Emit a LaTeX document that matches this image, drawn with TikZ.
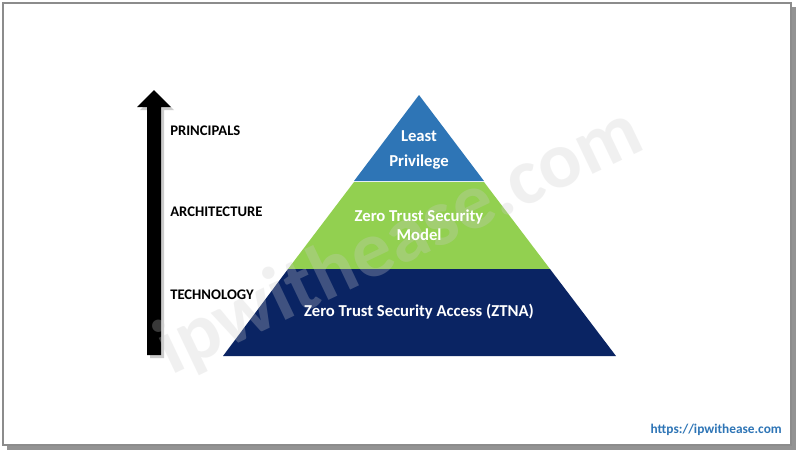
\documentclass[tikz,border=0pt]{standalone}
\usepackage{fontspec}
\setmainfont{Carlito}
\usetikzlibrary{calc}
\definecolor{tierTop}{HTML}{2E75B6}
\definecolor{tierMid}{HTML}{92D050}
\definecolor{tierBot}{HTML}{0A2463}
\definecolor{urlBlue}{HTML}{2E75B6}
\definecolor{frameGray}{HTML}{8C8C8C}
\begin{document}
\begin{tikzpicture}[x=0.75pt,y=-0.75pt,
  lvl/.style={anchor=west,font=\fontsize{11}{13}\selectfont\bfseries,text=black,inner sep=0pt},
  tiertext/.style={font=\fontsize{12.5}{17}\selectfont\bfseries,text=white,align=center,inner sep=0pt},
  wm/.style={font=\fontsize{60}{60}\selectfont\bfseries,text=gray!40,opacity=0.28,rotate=25.5}]
\useasboundingbox (0,0) rectangle (800,455);
\fill[white] (0,0) rectangle (800,455);
% frame with shadow
\fill[gray!85] (7,7) rectangle (796,450);
\fill[white] (3,3) rectangle (791,445);
\draw[frameGray,line width=1.4pt] (3,3) rectangle (791,445);
% arrow with shadow
\fill[gray!40] (150,358) -- (150,110) -- (140,110) -- (157,93) -- (174,110) -- (164,110) -- (164,358) -- cycle;
\fill[black] (147,355) -- (147,107) -- (137,107) -- (154,90) -- (171,107) -- (161,107) -- (161,355) -- cycle;
% pyramid tiers
\coordinate (apex) at (419,95);
\fill[tierTop] (apex) -- (484,181) -- (354,181) -- cycle;
\fill[tierMid] (354,182) -- (484,182) -- (550,269) -- (288,269) -- cycle;
\fill[tierBot] (288,269) -- (550,269) -- (616,356) -- (223,356) -- cycle;
% watermark
\node[wm] (wmk) at (400,242) {ipwithease.com};
% labels
\node[lvl] (pr) at (170,131) {PRINCIPALS};
\node[lvl] (ar) at (170,212) {ARCHITECTURE};
\node[lvl] (te) at (170,295) {TECHNOLOGY};
\node[tiertext] (t1) at (419,150) {Least\\[2pt]Privilege};
\node[tiertext] (t2) at (419,225) {Zero Trust Security\\[-3pt]Model};
\node[tiertext] (t3) at (419,312) {Zero Trust Security Access (ZTNA)};
% url
\node[anchor=east,font=\fontsize{10}{12}\selectfont\bfseries,text=urlBlue,inner sep=0pt] (url) at (782,430) {https://ipwithease.com};
\end{tikzpicture}
\end{document}
